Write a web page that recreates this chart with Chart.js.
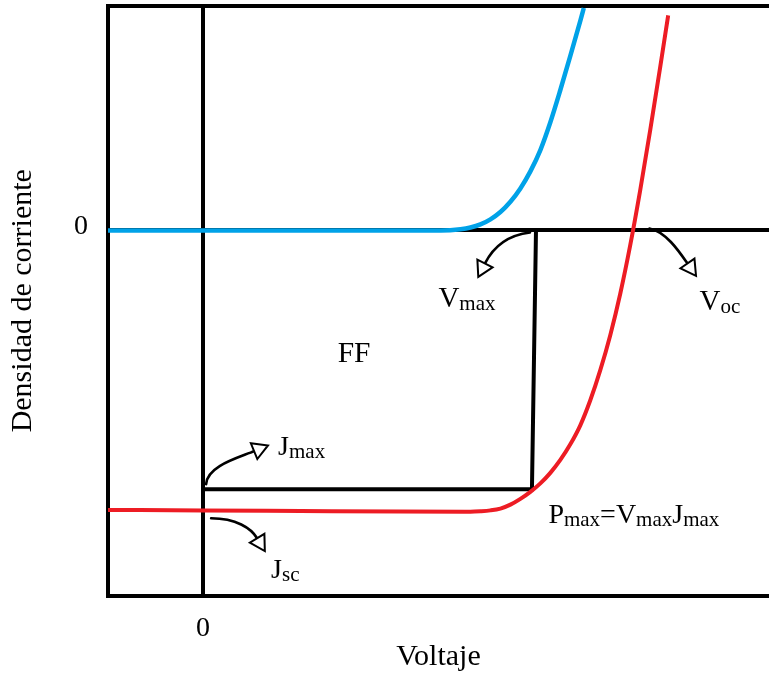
<!DOCTYPE html>
<html><head><meta charset="utf-8">
<script src="https://cdn.jsdelivr.net/npm/chart.js@4.4.1/dist/chart.umd.min.js"></script>
<style>html,body{margin:0;padding:0;background:#fff;}canvas{display:block;}</style>
</head><body>
<canvas id="c" width="769" height="677"></canvas>
<script>
// ---- data (V in volts, J in mA/cm2, arbitrary scale) ----
const darkV  = [-0.2, 0.0, 0.2, 0.4, 0.5, 0.5412, 0.5622, 0.5832, 0.6042, 0.6252, 0.6462, 0.6672, 0.6882, 0.7092, 0.7302, 0.7512, 0.7722, 0.7932, 0.8005];
const darkJ  = [0, 0, 0, 0, 0, 0.09, 0.21, 0.43, 0.79, 1.31, 2.04, 2.99, 4.20, 5.72, 7.70, 9.99, 12.41, 14.91, 15.82];
const lightV = [-0.2, 0.0, 0.2052, 0.4152, 0.5622, 0.5832, 0.6042, 0.6252, 0.6462, 0.6672, 0.6882, 0.7092, 0.7302, 0.7512, 0.7722, 0.7932, 0.8142, 0.8352, 0.8562, 0.8772, 0.8982, 0.9192, 0.9402, 0.9612, 0.9780];
const lightJ = [-19.875, -19.91, -19.95, -19.99, -20.0, -19.97, -19.91, -19.78, -19.50, -19.09, -18.59, -17.99, -17.24, -16.32, -15.21, -13.86, -12.08, -9.94, -7.45, -4.50, -1.05, 2.87, 7.14, 11.62, 15.30];
const Vmax = 0.70, Jmax = -18.4, Voc = 0.905, Jsc = -19.9;
const rectV = [0, 0.6915, Vmax];
const rectJ = [Jmax, Jmax, 0];
const xTickValues = [0];
const yTickValues = [0];
const xTitle = 'Voltaje';
const yTitle = 'Densidad de corriente';

const SERIF = '"Liberation Serif", "Times New Roman", serif';
const BLUE = '#00A2E8', RED = '#ED1C24';
const toPts = (xs, ys) => xs.map((v, i) => ({x: v, y: ys[i]}));

function drawRich(ctx, x, y, parts, size) {
  let cx = x;
  const main = size || 28;
  for (const [t, sub] of parts) {
    ctx.font = (sub ? '21px ' : main + 'px ') + SERIF;
    ctx.fillText(t, cx, sub ? y + 3 : y);
    cx += ctx.measureText(t).width;
  }
}
function drawArrow(ctx, p0, c1, c2, p3) {
  ctx.save();
  ctx.strokeStyle = '#000';
  ctx.lineWidth = 2.6;
  ctx.lineCap = 'round';
  ctx.beginPath();
  ctx.moveTo(p0[0], p0[1]);
  ctx.bezierCurveTo(c1[0], c1[1], c2[0], c2[1], p3[0], p3[1]);
  ctx.stroke();
  const dx = p3[0] - c2[0], dy = p3[1] - c2[1];
  const L = Math.hypot(dx, dy), ux = dx / L, uy = dy / L, px = -uy, py = ux;
  const hw = 8.5, hl = 15;
  ctx.beginPath();
  ctx.moveTo(p3[0] + px * hw, p3[1] + py * hw);
  ctx.lineTo(p3[0] + ux * hl, p3[1] + uy * hl);
  ctx.lineTo(p3[0] - px * hw, p3[1] - py * hw);
  ctx.closePath();
  ctx.fillStyle = '#fff';
  ctx.fill();
  ctx.lineWidth = 2;
  ctx.lineJoin = 'miter';
  ctx.stroke();
  ctx.restore();
}

const annotations = {
  id: 'annotations',
  afterDatasetsDraw(chart) {
    const ctx = chart.ctx, xs = chart.scales.x, ys = chart.scales.y;
    const P = (v, j, dx, dy) => [xs.getPixelForValue(v) + dx, ys.getPixelForValue(j) + dy];
    // arrows
    drawArrow(ctx, P(Vmax, 0, -6, 2), P(Vmax, 0, -31, 5), P(Vmax, 0, -44, 19), P(Vmax, 0, -51, 33));
    drawArrow(ctx, P(Voc, 0, 16, -2), P(Voc, 0, 32, 1), P(Voc, 0, 45, 20), P(Voc, 0, 54, 33));
    drawArrow(ctx, P(0, Jmax, 3, -5), P(0, Jmax, 4, -23), P(0, Jmax, 34, -31), P(0, Jmax, 51, -38));
    drawArrow(ctx, P(0, Jsc, 8, 8), P(0, Jsc, 33, 8), P(0, Jsc, 48, 18), P(0, Jsc, 54, 28));
    // labels
    ctx.save();
    ctx.fillStyle = '#000';
    ctx.textAlign = 'left';
    ctx.textBaseline = 'alphabetic';
    let p = P(0.285, -9.34, -1, 0);
    drawRich(ctx, p[0], p[1], [['FF', false]], 29.5);
    p = P(Vmax, 0, -97.6, 77);
    drawRich(ctx, p[0], p[1], [['V', false], ['max', true]], 29);
    p = P(Voc, 0, 66, 80);
    drawRich(ctx, p[0], p[1], [['V', false], ['oc', true]], 29);
    p = P(0, Jmax, 75, -34);
    drawRich(ctx, p[0], p[1], [['J', false], ['max', true]], 28);
    p = P(0, Jsc, 68, 68);
    drawRich(ctx, p[0], p[1], [['J', false], ['sc', true]], 28);
    p = P(Vmax, Jmax, 12.4, 33.7);
    drawRich(ctx, p[0], p[1], [['P', false], ['max', true], ['=V', false], ['max', true], ['J', false], ['max', true]], 28);
    ctx.restore();
  }
};

function fixSize(prop, val) {
  return function (scale) {
    scale[prop] = val;
    scale.paddingTop = 0; scale.paddingBottom = 0;
    scale.paddingLeft = 0; scale.paddingRight = 0;
  };
}

new Chart(document.getElementById('c'), {
  type: 'line',
  data: {
    datasets: [
      {data: toPts(lightV, lightJ), borderColor: RED, borderWidth: 4, pointRadius: 0, cubicInterpolationMode: 'monotone', fill: false},
      {data: toPts(darkV, darkJ), borderColor: BLUE, borderWidth: 4.5, pointRadius: 0, cubicInterpolationMode: 'monotone', fill: false},
      {data: toPts(rectV, rectJ), borderColor: '#000', borderWidth: 4, pointRadius: 0, tension: 0, fill: false, borderJoinStyle: 'miter'}
    ]
  },
  options: {
    responsive: false,
    animation: false,
    devicePixelRatio: 1,
    layout: {padding: 0},
    plugins: {legend: {display: false}, tooltip: {enabled: false}},
    scales: {
      x: {
        type: 'linear', position: 'bottom', min: -0.2, max: 1.19,
        afterBuildTicks: s => { s.ticks = xTickValues.map(v => ({value: v})); },
        afterFit: fixSize('height', 81),
        ticks: {color: '#000', font: {family: SERIF, size: 28}, padding: 16, maxRotation: 0, callback: v => String(v)},
        grid: {color: '#000', lineWidth: 4, drawTicks: false},
        border: {display: true, color: '#000', width: 4},
        title: {display: true, text: xTitle, color: '#000', font: {family: SERIF, size: 30}, padding: {top: 0, bottom: 2}}
      },
      x2: {
        type: 'linear', position: 'top', min: -0.2, max: 1.19,
        afterFit: fixSize('height', 5.5),
        ticks: {display: false},
        grid: {display: false, drawTicks: false},
        border: {display: true, color: '#000', width: 4}
      },
      y: {
        type: 'linear', position: 'left', min: -26, max: 16,
        afterBuildTicks: s => { s.ticks = yTickValues.map(v => ({value: v})); },
        afterFit: fixSize('width', 108),
        ticks: {color: '#000', font: {family: SERIF, size: 28}, padding: 20, labelOffset: -4, callback: v => String(v)},
        grid: {color: '#000', lineWidth: 4, drawTicks: false},
        border: {display: true, color: '#000', width: 4},
        title: {display: true, text: yTitle, color: '#000', font: {family: SERIF, size: 30}, padding: {top: 5, bottom: 0}}
      }
    }
  },
  plugins: [annotations]
});
</script>
</body></html>
